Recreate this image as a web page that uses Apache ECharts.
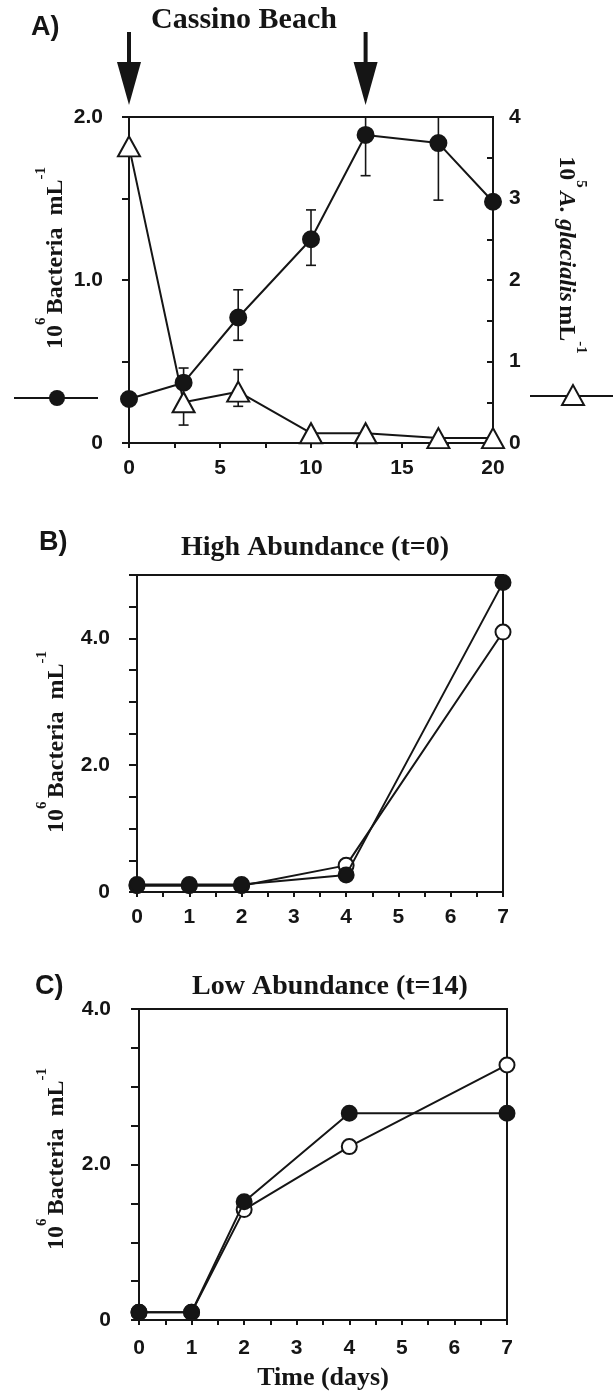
<!DOCTYPE html>
<html>
<head>
<meta charset="utf-8">
<script src="https://cdn.jsdelivr.net/npm/echarts@6/dist/echarts.min.js"></script>
<style>
  html, body { margin: 0; padding: 0; background: #fff; }
  #chart { width: 613px; height: 1394px; }
</style>
</head>
<body>
<div id="chart"></div>
<script>
const INK = '#151515';
const SERIF = '"Liberation Serif", "Times New Roman", serif';
const SANS = '"Liberation Sans", Arial, sans-serif';

// panel A - Cassino Beach
const daysA = [0, 3, 6, 10, 13, 17, 20];
const bacteriaA = [0.27, 0.37, 0.77, 1.25, 1.89, 1.84, 1.48];
const bacteriaLoA = [null, 0.37, 0.63, 1.09, 1.64, 1.49, null];
const bacteriaHiA = [null, 0.46, 0.94, 1.43, 2.0, 2.0, null];
const glacialisA = [3.64, 0.5, 0.63, 0.12, 0.12, 0.06, 0.06];
const glacialisLoA = [null, 0.22, 0.45, null, null, null, null];
const glacialisHiA = [null, 0.5, 0.9, null, null, null, null];
const arrowDaysA = [0, 13];

// panels B and C
const daysBC = [0, 1, 2, 4, 7];
const highFilled = [0.12, 0.12, 0.12, 0.27, 4.88];
const highOpen = [0.1, 0.1, 0.1, 0.42, 4.1];
const lowFilled = [0.1, 0.1, 1.52, 2.66, 2.66];
const lowOpen = [0.1, 0.1, 1.42, 2.23, 3.28];

// tick labels
const xTickValsA = [0, 5, 10, 15, 20];
const xTickValsBC = [0, 1, 2, 3, 4, 5, 6, 7];
const yTickValsA = [0, 1, 2];
const yTickTextA = ['0', '1.0', '2.0'];
const yTickValsR = [0, 1, 2, 3, 4];
const yTickValsBC = [0, 2, 4];
const yTickTextBC = ['0', '2.0', '4.0'];

function pick(vals, texts) {
  return v => {
    const i = vals.findIndex(t => Math.abs(t - v) < 1e-6);
    return i < 0 ? '' : (texts ? texts[i] : String(vals[i]));
  };
}

function axis(extra) {
  const base = {
    type: 'value',
    axisLine: { show: true, onZero: false, lineStyle: { color: INK, width: 2 } },
    axisTick: { show: true, length: 6, lineStyle: { color: INK, width: 2 } },
    splitLine: { show: false },
    axisLabel: { color: INK, fontFamily: SANS, fontWeight: 'bold', fontSize: 21 }
  };
  const out = Object.assign({}, base, extra);
  out.axisTick = Object.assign({}, base.axisTick, extra.axisTick || {});
  out.axisLabel = Object.assign({}, base.axisLabel, extra.axisLabel || {});
  return out;
}

function errorBars(days, lo, hi, yIdx) {
  const data = [];
  days.forEach((d, i) => { if (lo[i] != null) data.push([d, lo[i], hi[i]]); });
  return {
    type: 'custom', xAxisIndex: 0, yAxisIndex: yIdx, z: 1, silent: true,
    encode: { x: 0, y: [1, 2] },
    data,
    renderItem(params, api) {
      const a = api.coord([api.value(0), api.value(1)]);
      const b = api.coord([api.value(0), api.value(2)]);
      const w = 5;
      const st = { stroke: INK, lineWidth: 1.6 };
      return {
        type: 'group',
        children: [
          { type: 'line', shape: { x1: a[0], y1: a[1], x2: b[0], y2: b[1] }, style: st },
          { type: 'line', shape: { x1: a[0] - w, y1: a[1], x2: a[0] + w, y2: a[1] }, style: st },
          { type: 'line', shape: { x1: b[0] - w, y1: b[1], x2: b[0] + w, y2: b[1] }, style: st }
        ]
      };
    }
  };
}

function lineSeries(x, y, days, vals, kind, extra) {
  const filled = kind === 'filled';
  const tri = kind === 'triangle';
  return Object.assign({
    type: 'line', xAxisIndex: x, yAxisIndex: y, clip: false, silent: true,
    data: days.map((d, i) => [d, vals[i]]),
    symbol: tri ? 'triangle' : 'circle',
    symbolSize: tri ? [22, 20] : 16,
    showSymbol: true,
    lineStyle: { color: INK, width: 2 },
    itemStyle: { color: filled ? INK : '#fff', borderColor: INK, borderWidth: 2 },
    z: filled ? 4 : 3
  }, extra || {});
}

function yLabel(x, y, rot, text) {
  return {
    type: 'text', x, y, rotation: rot, silent: true,
    style: {
      text, fill: INK, align: 'center', verticalAlign: 'middle',
      rich: {
        n: { fontFamily: SERIF, fontWeight: 'bold', fontSize: 24, lineHeight: 44, verticalAlign: 'middle', fill: INK },
        i: { fontFamily: SERIF, fontWeight: 'bold', fontStyle: 'italic', fontSize: 24, lineHeight: 44, verticalAlign: 'middle', fill: INK },
        s: { fontFamily: SERIF, fontWeight: 'bold', fontSize: 15, lineHeight: 16, verticalAlign: 'top', fill: INK }
      }
    }
  };
}

function plainText(x, y, text, font, align) {
  return {
    type: 'text', x, y, silent: true,
    style: { text, fill: INK, font, align: align || 'center', verticalAlign: 'middle' }
  };
}

const chart = echarts.init(document.getElementById('chart'), null, { renderer: 'canvas' });

chart.setOption({
  backgroundColor: '#fff',
  animation: false,
  grid: [
    { left: 129, right: 120, top: 117, height: 326, show: true, borderColor: INK, borderWidth: 2 },
    { left: 137, right: 110, top: 575, height: 317, show: true, borderColor: INK, borderWidth: 2 },
    { left: 139, right: 106, top: 1009, height: 311, show: true, borderColor: INK, borderWidth: 2 }
  ],
  xAxis: [
    axis({ gridIndex: 0, min: 0, max: 20, interval: 2.5,
      axisTick: { length: 5 }, axisLabel: { margin: 15, formatter: pick(xTickValsA) } }),
    axis({ gridIndex: 1, min: 0, max: 7, interval: 0.5,
      axisTick: { length: 5 }, axisLabel: { margin: 15, formatter: pick(xTickValsBC) } }),
    axis({ gridIndex: 2, min: 0, max: 7, interval: 0.5,
      axisTick: { length: 5 }, axisLabel: { margin: 18, formatter: pick(xTickValsBC) },
      name: 'Time (days)', nameLocation: 'middle', nameGap: 45,
      nameTextStyle: { color: INK, fontFamily: SERIF, fontWeight: 'bold', fontSize: 26 } })
  ],
  yAxis: [
    axis({ gridIndex: 0, min: 0, max: 2, interval: 0.5,
      axisTick: { length: 7 }, axisLabel: { margin: 26, formatter: pick(yTickValsA, yTickTextA) } }),
    axis({ gridIndex: 0, position: 'right', min: 0, max: 4, interval: 0.5,
      axisTick: { inside: true, length: 6 }, axisLabel: { margin: 16, formatter: pick(yTickValsR) } }),
    axis({ gridIndex: 1, min: 0, max: 5, interval: 0.5,
      axisTick: { length: 8 }, axisLabel: { margin: 27, formatter: pick(yTickValsBC, yTickTextBC) } }),
    axis({ gridIndex: 2, min: 0, max: 4, interval: 0.5,
      axisTick: { length: 8 }, axisLabel: { margin: 28, formatter: pick(yTickValsBC, yTickTextBC) } })
  ],
  series: [
    errorBars(daysA, glacialisLoA, glacialisHiA, 1),
    errorBars(daysA, bacteriaLoA, bacteriaHiA, 0),
    lineSeries(0, 1, daysA, glacialisA, 'triangle'),
    lineSeries(0, 0, daysA, bacteriaA, 'filled'),
    {
      type: 'custom', xAxisIndex: 0, yAxisIndex: 0, silent: true, clip: false,
      data: arrowDaysA.map(d => [d, 2]),
      renderItem(params, api) {
        const p = api.coord([api.value(0), api.value(1)]);
        return {
          type: 'group',
          children: [
            { type: 'rect', shape: { x: p[0] - 2, y: p[1] - 85, width: 4, height: 32 }, style: { fill: INK } },
            { type: 'polygon', shape: { points: [[p[0] - 12, p[1] - 55], [p[0] + 12, p[1] - 55], [p[0], p[1] - 12]] }, style: { fill: INK } }
          ]
        };
      }
    },
    lineSeries(1, 2, daysBC, highOpen, 'open', { symbolSize: 15 }),
    lineSeries(1, 2, daysBC, highFilled, 'filled', { symbolSize: 15 }),
    lineSeries(2, 3, daysBC, lowOpen, 'open', { symbolSize: 15 }),
    lineSeries(2, 3, daysBC, lowFilled, 'filled', { symbolSize: 15 })
  ],
  graphic: [
    plainText(31, 28, 'A)', 'bold 27px ' + SANS, 'left'),
    plainText(244, 20, 'Cassino Beach', 'bold 30px ' + SERIF),
    plainText(39, 543, 'B)', 'bold 27px ' + SANS, 'left'),
    plainText(315, 548, 'High Abundance (t=0)', 'bold 28px ' + SERIF),
    plainText(35, 987, 'C)', 'bold 27px ' + SANS, 'left'),
    plainText(330, 987, 'Low Abundance (t=14)', 'bold 28px ' + SERIF),

    yLabel(56, 258, Math.PI / 2, '{n|10}{s|6} {n|Bacteria  mL}{s|-1}'),
    yLabel(566, 255, -Math.PI / 2, '{n|10}{s|5} {i|A. glacialis} {n|mL}{s|-1}'),
    yLabel(57, 742, Math.PI / 2, '{n|10}{s|6} {n|Bacteria  mL}{s|-1}'),
    yLabel(57, 1159, Math.PI / 2, '{n|10}{s|6} {n|Bacteria  mL}{s|-1}'),

    // legend keys beside panel A
    { type: 'line', silent: true, shape: { x1: 14, y1: 398, x2: 98, y2: 398 }, style: { stroke: INK, lineWidth: 2 } },
    { type: 'circle', silent: true, shape: { cx: 57, cy: 398, r: 8 }, style: { fill: INK } },
    { type: 'line', silent: true, shape: { x1: 530, y1: 396, x2: 613, y2: 396 }, style: { stroke: INK, lineWidth: 2 } },
    { type: 'polygon', silent: true, shape: { points: [[573, 385], [562, 405], [584, 405]] }, style: { fill: '#fff', stroke: INK, lineWidth: 2 } }
  ]
});
</script>
</body>
</html>
